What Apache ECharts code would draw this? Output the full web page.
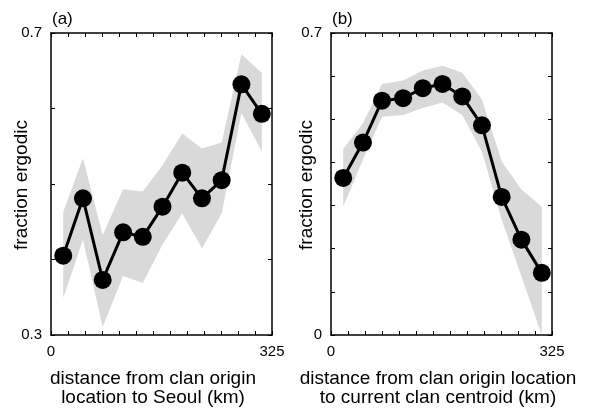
<!DOCTYPE html>
<html>
<head>
<meta charset="utf-8">
<script src="https://cdn.jsdelivr.net/npm/echarts@6/dist/echarts.min.js"></script>
<style>
html,body{margin:0;padding:0;background:#fff;}
#chart{width:590px;height:408px;}
</style>
</head>
<body>
<div id="chart"></div>
<script>
// distance bins (km)
const distA = [18, 47, 76, 106, 135, 164, 193, 222, 251, 280, 310];
const distB = [18, 47, 75, 106, 135, 164, 193, 222, 251, 280, 310];

// panel (a): distance from clan origin to Seoul
const meanA  = [0.405, 0.481, 0.373, 0.436, 0.430, 0.470, 0.515, 0.481, 0.505, 0.632, 0.593];
const upperA = [0.463, 0.534, 0.432, 0.493, 0.490, 0.525, 0.567, 0.547, 0.555, 0.672, 0.647];
const lowerA = [0.349, 0.426, 0.311, 0.378, 0.369, 0.420, 0.461, 0.415, 0.461, 0.594, 0.543];

// panel (b): distance from clan origin to current clan centroid
const meanB  = [0.364, 0.446, 0.543, 0.549, 0.572, 0.582, 0.553, 0.486, 0.320, 0.221, 0.144];
const upperB = [0.431, 0.491, 0.582, 0.590, 0.613, 0.624, 0.608, 0.546, 0.402, 0.337, 0.297];
const lowerB = [0.298, 0.407, 0.506, 0.510, 0.526, 0.539, 0.510, 0.425, 0.267, 0.136, 0.000];

const xTickLabels = ['0', '325'];
const yTickLabelsA = ['0.3', '0.7'];
const yTickLabelsB = ['0', '0.7'];

const FONT = 'Liberation Sans, Arial, Helvetica, sans-serif';

function bandSeries(dist, lo, hi, xi, yi) {
  const data = dist.map((d, i) => [d, lo[i], hi[i]]);
  return {
    type: 'custom',
    xAxisIndex: xi, yAxisIndex: yi,
    silent: true,
    z: 1,
    data: data,
    encode: { x: 0, y: [1, 2] },
    renderItem: function (params, api) {
      if (params.dataIndex !== 0) return null;
      const pts = [];
      for (let i = 0; i < data.length; i++) pts.push(api.coord([data[i][0], data[i][2]]));
      for (let i = data.length - 1; i >= 0; i--) pts.push(api.coord([data[i][0], data[i][1]]));
      return { type: 'polygon', shape: { points: pts }, style: { fill: '#d9d9d9', stroke: null } };
    }
  };
}

function meanSeries(dist, mean, xi, yi) {
  return {
    type: 'line',
    xAxisIndex: xi, yAxisIndex: yi,
    z: 3,
    data: dist.map((d, i) => [d, mean[i]]),
    symbol: 'circle',
    symbolSize: 18,
    itemStyle: { color: '#000' },
    lineStyle: { color: '#000', width: 3 },
    animation: false
  };
}

function xAx(grid, pos, showLabels) {
  return {
    type: 'value', gridIndex: grid, position: pos,
    min: 0, max: 325, interval: 25,
    axisLine: { show: true, onZero: false, lineStyle: { color: '#000', width: 1.5 } },
    axisTick: { show: true, inside: true, length: 4, lineStyle: { color: '#000', width: 1 } },
    splitLine: { show: false },
    axisLabel: {
      show: showLabels, margin: 9, fontSize: 15, color: '#000', fontFamily: FONT,
      showMinLabel: true, showMaxLabel: true,
      formatter: v => (v === 0 ? xTickLabels[0] : (v === 325 ? xTickLabels[1] : ''))
    }
  };
}

function yAx(grid, pos, min, max, labels, showLabels) {
  return {
    type: 'value', gridIndex: grid, position: pos,
    min: min, max: max, interval: 0.1,
    axisLine: { show: true, onZero: false, lineStyle: { color: '#000', width: 1.5 } },
    axisTick: { show: true, inside: true, length: 4, lineStyle: { color: '#000', width: 1 } },
    splitLine: { show: false },
    axisLabel: {
      show: showLabels, margin: 9, fontSize: 15, color: '#000', fontFamily: FONT,
      showMinLabel: true, showMaxLabel: true,
      formatter: v => (Math.abs(v - min) < 1e-9 ? labels[0] : (Math.abs(v - max) < 1e-9 ? labels[1] : ''))
    }
  };
}

function txt(x, y, s, size, rot) {
  return { type: 'text', x: x, y: y, rotation: rot || 0,
    style: { text: s, font: size + 'px ' + FONT, fill: '#000', textAlign: 'center', textVerticalAlign: 'middle' } };
}

const chart = echarts.init(document.getElementById('chart'), null, { renderer: 'canvas' });
chart.setOption({
  animation: false,
  backgroundColor: '#fff',
  grid: [
    { left: 51, top: 33, width: 221, height: 302 },
    { left: 331, top: 33, width: 221, height: 302 }
  ],
  xAxis: [
    xAx(0, 'bottom', true), xAx(0, 'top', false),
    xAx(1, 'bottom', true), xAx(1, 'top', false)
  ],
  yAxis: [
    yAx(0, 'left', 0.3, 0.7, yTickLabelsA, true),
    yAx(0, 'right', 0.3, 0.7, yTickLabelsA, false),
    yAx(1, 'left', 0, 0.7, yTickLabelsB, true),
    yAx(1, 'right', 0, 0.7, yTickLabelsB, false)
  ],
  series: [
    bandSeries(distA, lowerA, upperA, 0, 0),
    meanSeries(distA, meanA, 0, 0),
    bandSeries(distB, lowerB, upperB, 2, 2),
    meanSeries(distB, meanB, 2, 2)
  ],
  graphic: [
    { type: 'text', left: 52, top: 11, style: { text: '(a)', font: '17px ' + FONT, fill: '#000' } },
    { type: 'text', left: 332, top: 11, style: { text: '(b)', font: '17px ' + FONT, fill: '#000' } },
    txt(22, 185, 'fraction ergodic', 19, Math.PI / 2),
    txt(307, 185, 'fraction ergodic', 19, Math.PI / 2),
    txt(153, 379, 'distance from clan origin', 19),
    txt(153, 398, 'location to Seoul (km)', 19),
    txt(438, 379, 'distance from clan origin location', 19),
    txt(438, 398, 'to current clan centroid (km)', 19)
  ]
});
</script>
</body>
</html>
